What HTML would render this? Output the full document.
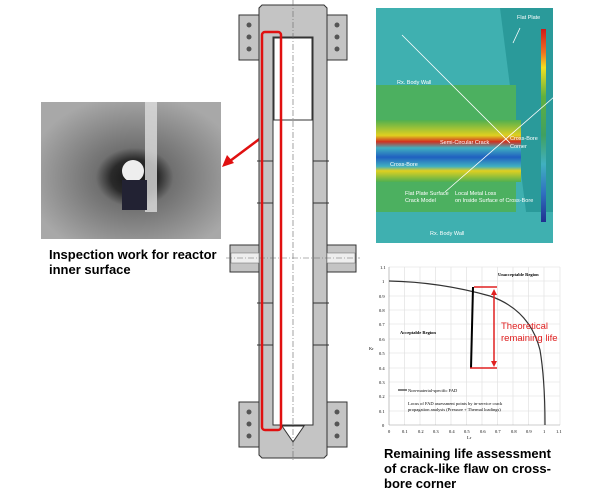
<!DOCTYPE html>
<html><head><meta charset="utf-8"><style>
body{margin:0;width:600px;height:493px;background:#fff;position:relative;overflow:hidden;font-family:"Liberation Sans",Arial,sans-serif}
.t{position:absolute;font-weight:bold;font-size:13px;line-height:15px;color:#000}
</style></head><body>
<svg width="600" height="493" style="position:absolute;left:0;top:0" font-family="Liberation Sans, sans-serif">
<defs>
<radialGradient id="ph" cx="0.52" cy="0.55" r="0.6"><stop offset="0" stop-color="#111"/><stop offset="0.22" stop-color="#2a2a2a"/><stop offset="0.36" stop-color="#707070"/><stop offset="1" stop-color="#a8a8a8"/></radialGradient>
<linearGradient id="cb" x1="0" y1="0" x2="0" y2="1"><stop offset="0" stop-color="#d01818"/><stop offset="0.12" stop-color="#f07020"/><stop offset="0.2" stop-color="#f0e020"/><stop offset="0.35" stop-color="#60b040"/><stop offset="0.55" stop-color="#40a060"/><stop offset="0.7" stop-color="#40b0c0"/><stop offset="0.85" stop-color="#3070c0"/><stop offset="1" stop-color="#203090"/></linearGradient>
<linearGradient id="band" x1="0" y1="0" x2="0" y2="1"><stop offset="0" stop-color="#50b050"/><stop offset="0.25" stop-color="#e0d020"/><stop offset="0.35" stop-color="#d03020"/><stop offset="0.45" stop-color="#40b0c0"/><stop offset="0.6" stop-color="#2060c0"/><stop offset="0.75" stop-color="#40b0c0"/><stop offset="0.82" stop-color="#e0d020"/><stop offset="1" stop-color="#50b050"/></linearGradient>
</defs>
<rect x="41" y="102" width="180" height="137" fill="url(#ph)"/>
<rect x="145" y="102" width="12" height="110" fill="#ddd" opacity="0.8"/>
<circle cx="133" cy="171" r="11" fill="#eee"/><rect x="122" y="180" width="25" height="30" fill="#223" />
<line x1="262" y1="137" x2="230" y2="161" stroke="#e01010" stroke-width="2.5"/>
<polygon points="222,167 227,155 234,163" fill="#e01010"/>
<g stroke="#333" stroke-width="1" fill="#c4c4c4">
<rect x="239" y="15" width="20" height="45"/><rect x="327" y="15" width="20" height="45"/>
<rect x="239" y="402" width="20" height="45"/><rect x="327" y="402" width="20" height="45"/>
<rect x="230" y="245" width="30" height="27"/><rect x="326" y="245" width="30" height="27"/>
<path d="M262,5 H324 L327,8 V455 L324,458 H262 L259,455 V8 Z"/>
</g>
<g fill="#555"><circle cx="249" cy="25" r="2.5"/><circle cx="249" cy="37" r="2.5"/><circle cx="249" cy="49" r="2.5"/><circle cx="337" cy="25" r="2.5"/><circle cx="337" cy="37" r="2.5"/><circle cx="337" cy="49" r="2.5"/>
<circle cx="249" cy="412" r="2.5"/><circle cx="249" cy="424" r="2.5"/><circle cx="249" cy="436" r="2.5"/><circle cx="337" cy="412" r="2.5"/><circle cx="337" cy="424" r="2.5"/><circle cx="337" cy="436" r="2.5"/></g>
<rect x="273" y="37" width="40" height="388" fill="#fff" stroke="#333"/>
<rect x="274" y="38" width="38" height="82" fill="#fff" stroke="#333"/>
<rect x="231" y="253" width="28" height="10" fill="#eee" stroke="#666" stroke-width="0.5"/><rect x="327" y="253" width="28" height="10" fill="#eee" stroke="#666" stroke-width="0.5"/>
<polygon points="282,426 304,426 293,442" fill="#fff" stroke="#333"/>
<line x1="293" y1="0" x2="293" y2="462" stroke="#666" stroke-dasharray="6,2,1,2" stroke-width="0.6"/>
<line x1="226" y1="258" x2="360" y2="258" stroke="#666" stroke-dasharray="6,2,1,2" stroke-width="0.6"/>
<g stroke="#333" stroke-width="1"><line x1="257" y1="161" x2="273" y2="161"/><line x1="313" y1="161" x2="329" y2="161"/><line x1="257" y1="203" x2="273" y2="203"/><line x1="313" y1="203" x2="329" y2="203"/><line x1="257" y1="303" x2="273" y2="303"/><line x1="313" y1="303" x2="329" y2="303"/><line x1="257" y1="345" x2="273" y2="345"/><line x1="313" y1="345" x2="329" y2="345"/></g>
<rect x="262" y="32" width="19" height="398" rx="3" fill="none" stroke="#e01010" stroke-width="2.5"/>
<rect x="376" y="8" width="177" height="235" fill="#3fb0b0"/>
<polygon points="500,8 553,8 553,243 530,243" fill="#2a9a9a"/>
<rect x="376" y="85" width="140" height="145" fill="#4cb060"/>
<rect x="376" y="120" width="145" height="62" fill="url(#band)"/>
<rect x="376" y="212" width="177" height="31" fill="#3fb0b0"/>
<rect x="541" y="29" width="5" height="193" fill="url(#cb)"/>
<g stroke="#ffffff" stroke-width="0.8" fill="none"><line x1="402" y1="35" x2="510" y2="143"/><line x1="445" y1="192" x2="562" y2="90"/><line x1="520" y1="28" x2="513" y2="43"/></g>
<g font-size="5.5" fill="#fff"><text x="517" y="19">Flat Plate</text><text x="397" y="84">Rx. Body Wall</text><text x="510" y="140">Cross-Bore</text><text x="510" y="148">Corner</text><text x="440" y="144">Semi-Circular Crack</text><text x="390" y="166">Cross-Bore</text><text x="405" y="195">Flat Plate Surface</text><text x="405" y="202">Crack Model</text><text x="455" y="195">Local Metal Loss</text><text x="455" y="202">on Inside Surface of Cross-Bore</text><text x="430" y="235">Rx. Body Wall</text></g>
<g stroke="#ddd" stroke-width="0.6">
<line x1="404.5" y1="267" x2="404.5" y2="425"/><line x1="420" y1="267" x2="420" y2="425"/><line x1="435.5" y1="267" x2="435.5" y2="425"/><line x1="451" y1="267" x2="451" y2="425"/><line x1="466.5" y1="267" x2="466.5" y2="425"/><line x1="482" y1="267" x2="482" y2="425"/><line x1="497.5" y1="267" x2="497.5" y2="425"/><line x1="513" y1="267" x2="513" y2="425"/><line x1="528.5" y1="267" x2="528.5" y2="425"/><line x1="544" y1="267" x2="544" y2="425"/><line x1="560" y1="267" x2="560" y2="425"/>
<line x1="389" y1="267" x2="560" y2="267"/><line x1="389" y1="281" x2="560" y2="281"/><line x1="389" y1="296" x2="560" y2="296"/><line x1="389" y1="310" x2="560" y2="310"/><line x1="389" y1="324" x2="560" y2="324"/><line x1="389" y1="339" x2="560" y2="339"/><line x1="389" y1="353" x2="560" y2="353"/><line x1="389" y1="368" x2="560" y2="368"/><line x1="389" y1="382" x2="560" y2="382"/><line x1="389" y1="396" x2="560" y2="396"/><line x1="389" y1="411" x2="560" y2="411"/></g>
<line x1="389" y1="267" x2="389" y2="425" stroke="#999" stroke-width="0.6"/><line x1="389" y1="425" x2="560" y2="425" stroke="#999" stroke-width="0.6"/>
<path d="M389,281 Q440,282 490,296 Q530,310 540,350 Q545,380 545,425" fill="none" stroke="#333" stroke-width="1.2"/>
<path d="M472,287 L474,287 L472,368 L470,368 Z" fill="#000"/>
<g stroke="#e02020" stroke-width="1.5"><line x1="474" y1="287" x2="497" y2="287"/><line x1="470" y1="368" x2="497" y2="368"/><line x1="494" y1="291" x2="494" y2="364"/></g>
<polygon points="494,289 491,295 497,295" fill="#e02020"/><polygon points="494,367 491,361 497,361" fill="#e02020"/>
<text x="501" y="329" font-size="9.5" fill="#e02020">Theoretical</text><text x="501" y="341" font-size="9.5" fill="#e02020">remaining life</text>
<g font-family="Liberation Serif, serif" font-size="4.5" fill="#000"><text x="498" y="276" font-weight="bold">Unacceptable Region</text><text x="400" y="334" font-weight="bold">Acceptable Region</text><text x="408" y="392">Non-material-specific FAD</text><text x="408" y="405">Locus of FAD assessment points by in-service crack</text><text x="408" y="411">propagation analysis (Pressure + Thermal loadings)</text>
<text x="380" y="269">1.1</text><text x="382" y="283">1</text><text x="379" y="298">0.9</text><text x="379" y="312">0.8</text><text x="379" y="326">0.7</text><text x="379" y="341">0.6</text><text x="379" y="355">0.5</text><text x="379" y="370">0.4</text><text x="379" y="384">0.3</text><text x="379" y="398">0.2</text><text x="379" y="413">0.1</text><text x="382" y="427">0</text>
<text x="388" y="433">0</text><text x="402" y="433">0.1</text><text x="418" y="433">0.2</text><text x="433" y="433">0.3</text><text x="449" y="433">0.4</text><text x="464" y="433">0.5</text><text x="480" y="433">0.6</text><text x="495" y="433">0.7</text><text x="511" y="433">0.8</text><text x="526" y="433">0.9</text><text x="543" y="433">1</text><text x="556" y="433">1.1</text><text x="467" y="439">Lr</text><text x="369" y="350">Kr</text></g>
<line x1="398" y1="390" x2="407" y2="390" stroke="#333" stroke-width="1.2"/>
</svg>
<div class="t" style="left:49px;top:247px">Inspection work for reactor<br>inner surface</div>
<div class="t" style="left:384px;top:446px">Remaining life assessment<br>of crack-like flaw on cross-<br>bore corner</div>
</body></html>
